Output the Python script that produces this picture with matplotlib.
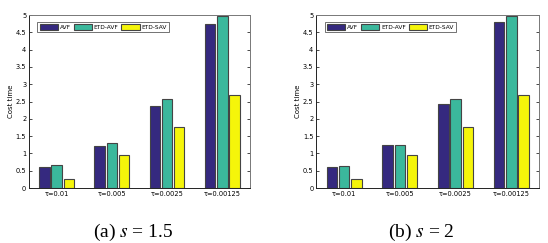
import matplotlib.pyplot as plt
import numpy as np

groups = ['τ=0.01', 'τ=0.005', 'τ=0.0025', 'τ=0.00125']
series = ['AVF', 'ETD-AVF', 'ETD-SAV']
avf_a = [0.62, 1.22, 2.38, 4.75]
etd_avf_a = [0.68, 1.31, 2.57, 4.97]
etd_sav_a = [0.27, 0.95, 1.77, 2.70]
avf_b = [0.62, 1.24, 2.43, 4.80]
etd_avf_b = [0.64, 1.25, 2.57, 4.97]
etd_sav_b = [0.27, 0.95, 1.77, 2.70]
captions = ['(a) $s$ = 1.5', '(b) $s$ = 2']

colors = ['#35297f', '#3bb89c', '#f5f50a']

plt.rcParams['font.family'] = ['DejaVu Sans']
plt.rcParams['mathtext.fontset'] = 'stix'

fig = plt.figure(figsize=(5.48, 2.43), dpi=100)
panels = [
    (fig.add_axes([0.053, 0.226, 0.403, 0.712]), [avf_a, etd_avf_a, etd_sav_a], captions[0], 0.243),
    (fig.add_axes([0.577, 0.226, 0.407, 0.712]), [avf_b, etd_avf_b, etd_sav_b], captions[1], 0.768),
]

x = np.arange(1, len(groups) + 1)
w = 0.19
step = 0.22
for ax, data, cap, cx in panels:
    for i, (vals, name) in enumerate(zip(data, series)):
        ax.bar(x + (i - 1) * step, vals, w, color=colors[i], edgecolor='#444444',
               linewidth=0.8, label=name)
    ax.set_xlim(0.5, 4.5)
    ax.set_ylim(0, 5)
    ax.set_yticks(np.arange(0, 5.01, 0.5))
    ax.set_yticklabels(['0', '0.5', '1', '1.5', '2', '2.5', '3', '3.5', '4', '4.5', '5'])
    ax.set_xticks(x)
    ax.set_xticklabels(groups)
    ax.tick_params(direction='in', top=True, right=True, labelsize=4.8, length=2,
                   width=0.5, pad=2)
    ax.tick_params(axis='x', length=0)
    for side, s in ax.spines.items():
        s.set_linewidth(0.7)
        s.set_color('#222222' if side in ('left', 'bottom') else '#777777')
    ax.set_ylabel('Cost time', fontsize=5, labelpad=1)
    leg = ax.legend(loc='upper left', ncol=3, fontsize=4.2, frameon=True, fancybox=False,
                    edgecolor='#333333', handlelength=3.2, handleheight=1.1,
                    columnspacing=0.5, handletextpad=0.25, borderpad=0.35,
                    bbox_to_anchor=(0.025, 0.975))
    leg.get_frame().set_linewidth(0.6)
    fig.text(cx, 0.045, cap, ha='center', va='center', fontsize=14,
             family='Liberation Serif')

fig.savefig('out.png', dpi=100)
